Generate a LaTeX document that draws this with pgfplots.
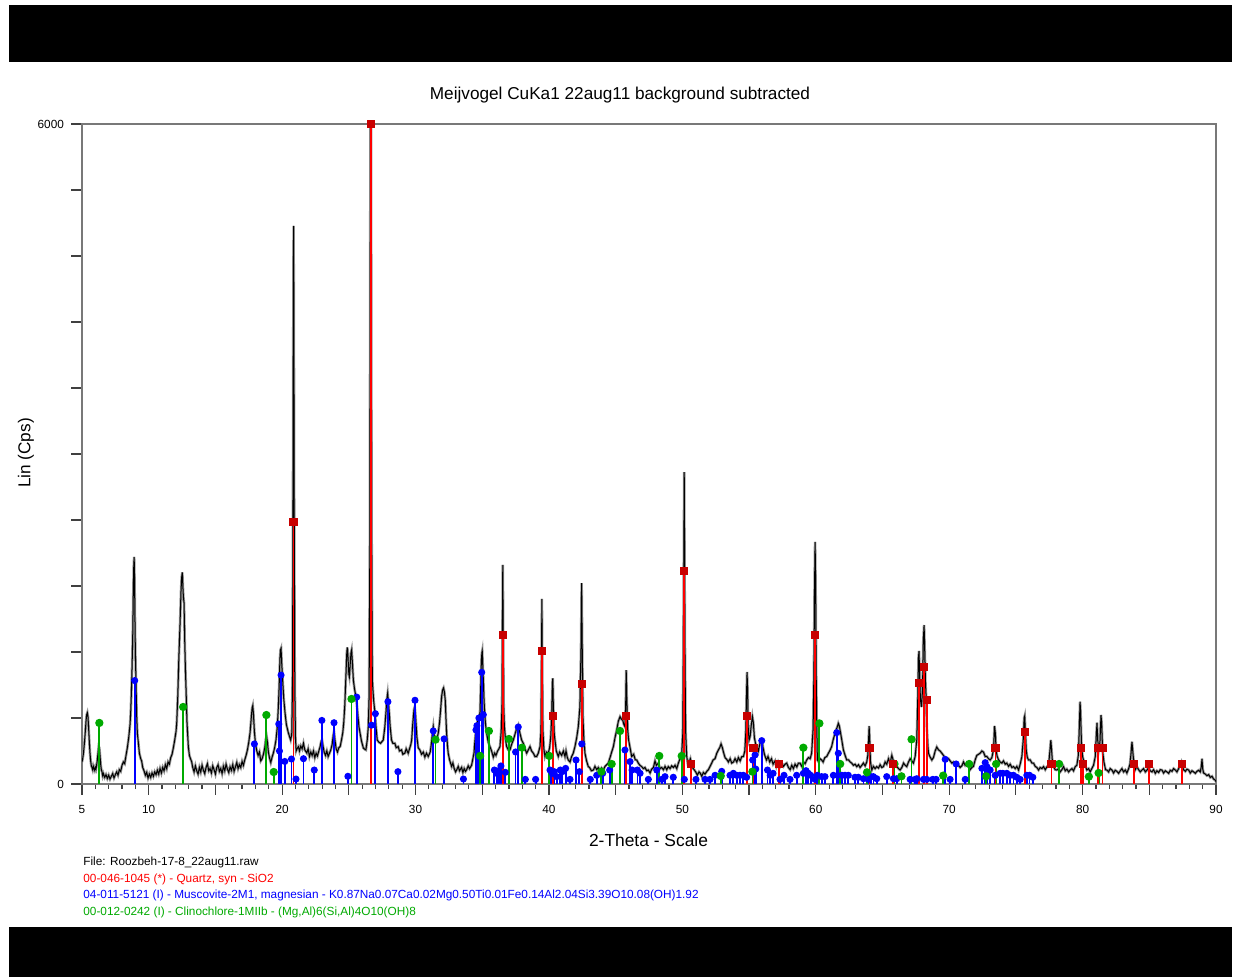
\documentclass[border=0pt]{standalone}
\usepackage{pgfplots}
\usepackage{pgfplotstable}
\pgfplotsset{compat=1.18}
\usepackage{fontspec}
\setmainfont{Liberation Sans}
\definecolor{qtz}{RGB}{255,0,0}
\definecolor{qtzmark}{RGB}{200,0,0}
\definecolor{musc}{RGB}{0,0,255}
\definecolor{chl}{RGB}{0,170,0}
\definecolor{frame}{RGB}{120,120,120}

% measured scan, 2-theta vs counts
\pgfplotstableread{
5.00 200
5.05 230
5.10 270
5.15 330
5.20 400
5.25 480
5.30 570
5.35 630
5.40 648
5.45 610
5.50 500
5.55 380
5.60 280
5.65 210
5.70 165
5.75 150
5.80 130
5.85 160
5.90 140
5.95 125
6.00 150
6.05 135
6.10 175
6.15 220
6.20 280
6.25 340
6.30 330
6.35 260
6.40 180
6.45 130
6.50 110
6.55 75
6.60 95
6.70 60
6.80 85
6.90 50
7.00 80
7.10 45
7.20 70
7.30 95
7.40 55
7.50 85
7.60 110
7.70 80
7.80 130
7.90 115
8.00 170
8.10 200
8.20 185
8.30 260
8.40 330
8.50 420
8.55 480
8.60 540
8.65 650
8.70 820
8.75 1050
8.80 1320
8.84 1700
8.88 1980
8.91 2064
8.94 1850
8.97 1500
9.00 1200
9.05 900
9.10 620
9.15 460
9.22 380
9.30 280
9.40 230
9.47 210
9.55 150
9.65 120
9.75 80
9.85 105
9.95 55
10.05 90
10.15 60
10.25 100
10.35 70
10.45 110
10.55 85
10.65 125
10.75 90
10.85 140
10.95 100
11.05 150
11.15 120
11.25 175
11.35 140
11.45 200
11.55 180
11.65 240
11.75 270
11.85 330
11.95 400
12.05 480
12.10 554
12.18 800
12.26 1150
12.35 1460
12.42 1750
12.47 1880
12.52 1924
12.56 1800
12.60 1700
12.65 1645
12.70 1300
12.75 1050
12.80 855
12.87 560
12.97 339
13.05 260
13.13 230
13.22 203
13.30 150
13.40 110
13.50 165
13.60 120
13.70 90
13.80 150
13.90 110
14.00 170
14.10 125
14.20 95
14.30 150
14.40 185
14.50 120
14.60 140
14.70 100
14.80 165
14.90 130
15.00 90
15.10 150
15.20 175
15.30 115
15.40 140
15.50 95
15.60 160
15.70 120
15.80 180
15.90 135
16.00 105
16.10 155
16.20 125
16.30 175
16.40 115
16.50 155
16.60 195
16.70 140
16.80 175
16.90 150
17.00 205
17.10 170
17.20 220
17.30 260
17.40 310
17.50 380
17.60 470
17.68 590
17.75 690
17.80 712
17.85 640
17.92 480
18.00 370
18.10 300
18.20 260
18.30 290
18.40 210
18.50 230
18.60 270
18.70 330
18.78 410
18.84 430
18.90 380
18.97 290
19.05 240
19.15 195
19.25 245
19.34 280
19.44 330
19.54 400
19.64 521
19.72 703
19.78 900
19.84 1150
19.88 1220
19.92 1233
19.97 1100
20.04 945
20.12 780
20.22 645
20.32 540
20.47 464
20.56 430
20.64 400
20.72 450
20.78 900
20.81 2200
20.84 4300
20.86 5073
20.88 4200
20.91 2300
20.95 900
21.00 420
21.05 300
21.12 320
21.22 339
21.30 300
21.40 345
21.50 320
21.60 370
21.70 310
21.85 282
21.95 320
22.05 250
22.15 290
22.25 260
22.35 300
22.45 240
22.55 280
22.65 255
22.75 300
22.85 340
22.93 390
22.99 400
23.06 350
23.15 290
23.25 260
23.35 300
23.45 250
23.55 280
23.65 310
23.75 360
23.83 440
23.89 476
23.95 410
24.05 320
24.15 290
24.25 330
24.35 340
24.45 400
24.55 470
24.62 560
24.70 720
24.79 1009
24.85 1200
24.89 1242
24.94 1150
25.00 1000
25.04 975
25.10 1080
25.16 1190
25.21 1218
25.27 1100
25.34 945
25.42 870
25.52 800
25.59 736
25.68 620
25.76 520
25.84 464
25.95 390
26.09 327
26.20 315
26.28 310
26.38 400
26.46 521
26.52 800
26.57 2000
26.60 4500
26.62 6000
26.66 6000
26.68 4600
26.71 2300
26.76 945
26.86 760
26.96 645
27.05 500
27.13 400
27.25 380
27.38 370
27.48 385
27.58 400
27.70 520
27.78 645
27.85 770
27.91 824
27.97 740
28.03 645
28.10 520
28.20 400
28.30 370
28.45 370
28.55 330
28.70 340
28.80 300
28.95 310
29.05 270
29.20 280
29.30 320
29.45 280
29.55 320
29.65 360
29.71 400
29.80 560
29.89 680
29.94 700
30.00 620
30.10 430
30.20 330
30.33 309
30.45 270
30.58 290
30.70 245
30.82 280
30.95 250
31.10 290
31.20 380
31.28 480
31.33 521
31.40 440
31.53 400
31.62 420
31.70 460
31.80 560
31.88 673
31.96 800
32.03 855
32.10 873
32.16 840
32.23 760
32.28 600
32.33 460
32.40 340
32.45 280
32.55 220
32.70 160
32.80 190
32.90 140
33.00 110
33.08 127
33.20 160
33.30 120
33.45 150
33.55 105
33.65 140
33.75 115
33.83 130
33.95 165
34.05 140
34.20 170
34.30 230
34.38 280
34.45 390
34.53 491
34.62 560
34.70 582
34.78 620
34.83 645
34.88 850
34.93 1100
34.97 1190
35.00 1209
35.04 1080
35.08 955
35.13 780
35.18 645
35.25 540
35.33 460
35.45 380
35.58 340
35.70 300
35.83 245
35.93 280
36.03 260
36.15 300
36.25 320
36.33 340
36.42 480
36.48 700
36.51 1300
36.54 1991
36.57 1400
36.61 700
36.66 521
36.75 400
36.83 340
36.95 310
37.08 310
37.20 360
37.33 400
37.45 450
37.58 506
37.70 536
37.83 460
37.95 400
38.08 370
38.20 320
38.33 280
38.45 310
38.58 340
38.70 300
38.83 280
38.95 250
39.08 250
39.20 280
39.33 340
39.40 480
39.44 1000
39.47 1682
39.50 1100
39.54 500
39.62 320
39.70 250
39.82 290
39.95 280
40.05 330
40.13 420
40.20 600
40.26 920
40.29 961
40.33 700
40.40 450
40.45 400
40.55 300
40.70 250
40.80 290
40.95 260
41.08 300
41.20 250
41.28 300
41.38 240
41.45 218
41.58 200
41.70 250
41.82 280
41.95 340
42.08 420
42.20 521
42.32 700
42.40 1200
42.45 1827
42.49 1300
42.55 600
42.62 400
42.70 280
42.82 210
42.95 158
43.05 150
43.18 120
43.33 127
43.45 160
43.58 130
43.70 150
43.85 115
43.95 145
44.08 127
44.20 160
44.33 175
44.45 190
44.58 240
44.70 290
44.83 340
44.95 420
45.08 491
45.20 570
45.33 612
45.43 590
45.53 580
45.62 540
45.70 521
45.75 700
45.79 1036
45.83 800
45.90 500
45.97 400
46.05 350
46.20 250
46.35 270
46.47 220
46.58 218
46.70 190
46.82 170
46.95 158
47.08 140
47.20 150
47.33 120
47.45 127
47.58 100
47.70 135
47.83 150
47.95 210
48.05 170
48.20 190
48.33 140
48.45 150
48.58 130
48.70 160
48.83 130
48.95 158
49.08 140
49.20 165
49.33 150
49.45 170
49.58 140
49.70 190
49.83 230
49.95 280
50.03 450
50.08 1300
50.14 2836
50.19 1300
50.24 500
50.32 260
50.40 190
50.50 200
50.60 230
50.65 200
50.75 150
50.90 127
51.00 110
51.12 80
51.25 110
51.35 97
51.45 70
51.58 105
51.70 90
51.85 118
51.95 130
52.08 160
52.20 190
52.30 218
52.45 230
52.58 280
52.70 310
52.80 330
52.90 364
53.00 330
53.08 290
53.20 240
53.35 220
53.45 200
53.58 230
53.70 190
53.83 200
53.95 230
54.08 200
54.20 240
54.33 210
54.45 248
54.58 250
54.68 300
54.75 450
54.81 800
54.85 1018
54.89 850
54.94 500
55.00 400
55.08 430
55.15 520
55.25 612
55.32 560
55.40 420
55.50 360
55.60 336
55.70 300
55.80 360
55.88 400
55.98 390
56.05 330
56.15 270
56.30 218
56.42 250
56.55 200
56.68 230
56.80 180
56.95 210
57.05 158
57.18 200
57.32 158
57.45 190
57.58 160
57.70 180
57.82 190
57.95 150
58.08 130
58.20 170
58.32 140
58.45 180
58.58 155
58.70 190
58.82 190
58.95 160
59.08 200
59.20 185
59.32 218
59.45 240
59.58 230
59.69 280
59.80 500
59.86 1000
59.91 1800
59.95 2200
59.99 1800
60.03 1000
60.08 500
60.12 218
60.22 200
60.32 230
60.44 218
60.55 200
60.68 240
60.82 250
60.95 280
61.08 310
61.19 340
61.30 400
61.44 460
61.55 500
61.62 521
61.69 551
61.76 530
61.82 491
61.95 400
62.07 310
62.20 260
62.32 218
62.45 220
62.58 200
62.69 190
62.82 170
62.95 180
63.07 158
63.20 175
63.32 150
63.45 170
63.57 190
63.70 165
63.82 200
63.90 260
63.96 400
64.00 527
64.05 380
64.10 200
64.20 127
64.32 160
64.45 140
64.57 158
64.70 145
64.82 175
64.95 150
65.07 158
65.20 200
65.32 180
65.45 230
65.57 190
65.70 260
65.82 210
65.95 170
66.07 160
66.20 140
66.32 127
66.45 150
66.58 190
66.70 170
66.82 158
66.95 200
67.07 230
67.20 210
67.32 190
67.45 250
67.57 400
67.65 800
67.70 1150
67.74 1209
67.79 950
67.85 764
67.92 700
68.00 850
68.06 1300
68.12 1445
68.17 1200
68.22 930
68.27 800
68.32 521
68.40 350
68.45 280
68.55 250
68.70 218
68.82 240
68.95 300
69.07 336
69.20 310
69.32 300
69.45 280
69.57 260
69.70 240
69.82 218
69.95 230
70.07 210
70.20 190
70.32 200
70.45 180
70.57 190
70.70 170
70.82 150
70.95 165
71.07 200
71.20 170
71.32 190
71.45 160
71.57 130
71.70 150
71.82 160
71.95 220
72.07 260
72.20 270
72.32 280
72.45 300
72.57 290
72.70 250
72.82 250
72.95 230
73.07 218
73.20 240
73.32 310
73.40 527
73.46 460
73.52 300
73.60 250
73.70 220
73.82 200
73.95 190
74.07 210
74.20 180
74.32 190
74.45 160
74.57 180
74.70 150
74.82 158
74.95 140
75.07 160
75.20 127
75.32 180
75.45 250
75.55 400
75.62 600
75.66 618
75.71 480
75.78 300
75.86 240
75.95 218
76.07 220
76.20 190
76.32 190
76.45 160
76.57 150
76.70 127
76.82 150
76.95 140
77.07 158
77.20 130
77.32 155
77.45 170
77.55 300
77.62 400
77.68 300
77.76 170
77.85 150
77.95 130
78.07 127
78.20 140
78.32 110
78.45 130
78.57 158
78.70 120
78.82 135
78.95 110
79.07 127
79.20 140
79.32 120
79.45 158
79.57 170
79.68 260
79.75 500
79.81 748
79.85 650
79.92 350
80.00 250
80.07 218
80.15 180
80.25 150
80.32 127
80.45 140
80.57 110
80.70 142
80.82 170
80.95 250
81.03 450
81.08 557
81.13 400
81.22 320
81.30 380
81.38 627
81.43 550
81.50 300
81.60 200
81.72 130
81.82 127
81.95 110
82.07 140
82.20 127
82.32 100
82.45 125
82.57 115
82.70 97
82.82 120
82.95 140
83.07 110
83.20 127
83.32 100
83.45 140
83.55 180
83.63 280
83.70 385
83.76 300
83.85 180
83.95 130
84.07 158
84.20 130
84.32 110
84.45 127
84.57 140
84.70 110
84.82 125
84.95 150
85.07 120
85.20 110
85.32 130
85.45 97
85.57 120
85.70 105
85.82 130
85.95 127
86.07 100
86.20 120
86.32 110
86.45 97
86.57 125
86.70 115
86.82 140
86.95 127
87.07 110
87.20 140
87.32 180
87.40 200
87.48 160
87.57 130
87.70 115
87.82 135
87.95 127
88.07 100
88.20 120
88.32 110
88.45 97
88.57 115
88.70 125
88.82 110
88.90 160
88.95 230
89.00 140
89.07 100
89.20 90
89.32 76
89.45 85
89.57 60
89.70 70
89.82 45
89.95 35
90.00 20
}\scan

\begin{document}
\begin{tikzpicture}
\useasboundingbox (0,0) rectangle (617pt,488.5pt);
\fill[white] (0,0) rectangle (617pt,488.5pt);
% black bands of the exported page
\fill[black] (4.5pt,457.5pt) rectangle (616pt,486pt);
\fill[black] (4.5pt,0pt) rectangle (616pt,25pt);

\begin{axis}[
  at={(41pt,96.5pt)}, anchor=south west,
  scale only axis, width=567pt, height=330pt,
  xmin=5, xmax=90, ymin=0, ymax=6000,
  axis line style={frame, line width=0.9pt},
  tick align=outside,
  xtick pos=bottom, ytick pos=left,
  xtick={5,10,...,90},
  xticklabels={5,10,,20,,30,,40,,50,,60,,70,,80,,90},
  minor xtick={6,...,89},
  ytick={0,600,...,6000},
  yticklabels={0,,,,,,,,,,6000},
  major tick length=5.5pt, minor tick length=2.6pt,
  every tick/.style={black!75, line width=0.6pt},
  ticklabel style={font=\fontsize{5.9}{7}\selectfont},
  xticklabel style={yshift=-1.5pt},
  /pgf/number format/assume math mode=true,
  clip=true,
]
\addplot[black!40, line width=1.3pt] table {\scan};
\addplot[black, line width=0.5pt] table {\scan};
% 04-011-5121 Muscovite-2M1
\addplot[ycomb, musc, line width=0.9pt, mark=*, mark size=1.3pt, mark options={fill=musc, draw=musc}] table {
8.95 940
17.92 364
19.75 545
19.80 300
19.92 990
20.20 205
20.70 227
21.04 45
21.60 230
22.41 127
22.98 578
23.89 557
24.93 70
25.59 790
26.70 535
26.99 639
27.93 748
28.68 112
29.96 761
31.33 482
32.14 410
33.59 45
34.53 491
34.60 530
34.75 600
34.96 1015
35.08 630
35.91 127
36.08 97
36.23 121
36.40 164
36.73 106
37.50 291
37.70 518
38.23 42
39.00 42
40.08 127
40.25 97
40.40 112
40.58 67
40.85 127
41.00 112
41.25 142
41.58 42
42.03 218
42.28 112
42.46 364
43.10 42
43.58 79
44.03 97
44.55 127
45.70 309
46.08 203
46.23 127
46.63 127
46.83 97
47.45 42
48.08 127
48.45 42
48.70 67
49.32 61
50.15 42
51.02 42
51.70 42
52.07 42
52.45 79
52.95 115
53.57 79
53.82 97
54.07 79
54.32 79
54.57 79
54.82 61
55.27 218
55.45 264
55.50 136
55.95 394
56.38 127
56.58 79
56.80 97
57.32 42
57.62 79
58.07 42
58.57 79
59.07 97
59.27 121
59.44 97
59.62 79
59.94 42
60.12 79
60.44 67
60.69 67
61.32 79
61.57 467
61.69 279
61.94 79
62.19 79
62.44 79
62.94 61
63.19 61
63.57 48
63.94 42
64.12 67
64.32 67
64.57 48
65.32 67
65.82 48
66.07 48
67.07 42
67.44 42
67.57 48
68.07 42
68.32 42
68.77 42
69.02 42
69.70 224
70.07 42
70.52 182
71.20 42
72.45 142
72.70 194
72.82 158
73.07 127
73.45 79
73.82 97
74.02 97
74.32 97
74.57 79
74.82 79
75.07 61
75.32 42
75.82 79
76.02 79
76.27 61
};
% 00-012-0242 Clinochlore-1MIIb
\addplot[ycomb, chl, line width=0.9pt, mark=*, mark size=1.6pt, mark options={fill=chl, draw=chl}] table {
6.30 555
12.58 700
18.82 627
19.37 109
25.20 773
31.50 403
34.84 255
35.50 482
37.00 409
37.98 330
40.03 255
43.93 112
44.70 182
45.33 482
48.27 255
49.95 255
52.88 73
55.25 112
59.07 330
60.27 551
61.83 182
63.84 106
65.90 182
66.42 70
67.18 406
69.55 76
71.50 182
72.77 70
73.52 182
78.24 182
80.47 67
81.20 100
};
% 00-046-1045 Quartz, syn
\addplot[ycomb, qtz, line width=0.9pt, mark=square*, mark size=1.6pt, mark options={fill=qtzmark, draw=qtzmark}] table {
20.86 2382
26.64 6000
36.54 1355
39.47 1209
40.29 621
42.45 912
45.79 621
50.14 1936
50.62 182
54.87 621
55.33 330
57.24 182
59.96 1355
64.03 330
65.79 182
67.74 915
68.14 1061
68.31 764
73.47 330
75.66 476
77.67 182
79.88 330
80.04 182
81.17 330
81.49 330
83.83 182
84.95 182
87.44 182
};
\end{axis}

\node[font=\fontsize{8.6}{10}\selectfont] at (310pt,441pt) {Meijvogel CuKa1 22aug11 background subtracted};
\node[font=\fontsize{8.7}{10}\selectfont] at (324.25pt,68.5pt) {2-Theta - Scale};
\node[font=\fontsize{8.6}{10}\selectfont, rotate=90] at (13pt,262pt) {Lin (Cps)};

\begin{scope}[every node/.style={anchor=west, inner sep=0pt, font=\fontsize{5.9}{7}\selectfont}]
\node at (41.5pt,57.5pt) {File: Roozbeh-17-8\_22aug11.raw};
\node[text=qtz] at (41.5pt,49pt) {00-046-1045 (*) - Quartz, syn - SiO2};
\node[text=musc] at (41.5pt,41pt) {04-011-5121 (I) - Muscovite-2M1, magnesian - K0.87Na0.07Ca0.02Mg0.50Ti0.01Fe0.14Al2.04Si3.39O10.08(OH)1.92};
\node[text=chl] at (41.5pt,32.5pt) {00-012-0242 (I) - Clinochlore-1MIIb - (Mg,Al)6(Si,Al)4O10(OH)8};
\end{scope}
\end{tikzpicture}
\end{document}
